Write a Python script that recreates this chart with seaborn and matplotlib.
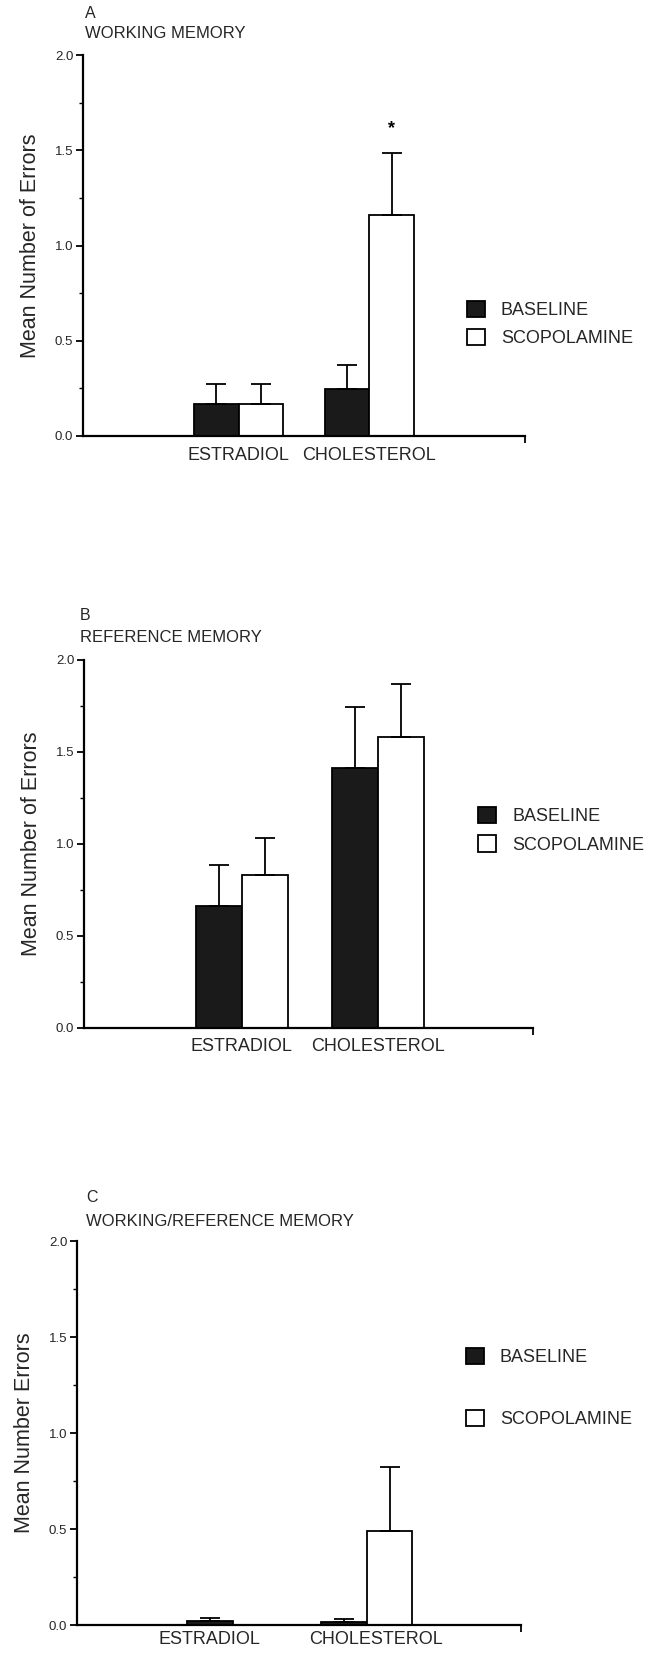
import numpy as np
import pandas as pd
import matplotlib
matplotlib.use("Agg")
import matplotlib.pyplot as plt
import seaborn as sns

# ---------------- data ----------------
treatments = ["ESTRADIOL", "CHOLESTEROL"]
conditions = ["BASELINE", "SCOPOLAMINE"]

# Panel A: working memory
wm_baseline = [0.167, 0.247]
wm_scopolamine = [0.167, 1.16]
wm_baseline_err = [0.105, 0.125]
wm_scopolamine_err = [0.105, 0.325]

# Panel B: reference memory
rm_baseline = [0.665, 1.415]
rm_scopolamine = [0.83, 1.58]
rm_baseline_err = [0.22, 0.33]
rm_scopolamine_err = [0.205, 0.29]

# Panel C: working/reference memory
wrm_baseline = [0.02, 0.015]
wrm_scopolamine = [0.0, 0.49]
wrm_baseline_err = [0.015, 0.015]
wrm_scopolamine_err = [0.0, 0.335]

panel_letters = ["A", "B", "C"]
panel_titles = ["WORKING MEMORY", "REFERENCE MEMORY", "WORKING/REFERENCE MEMORY"]
ylabels = ["Mean Number of Errors", "Mean Number of Errors", "Mean Number Errors"]
yticks = [0.0, 0.5, 1.0, 1.5, 2.0]
ytick_labels = ["0.0", "0.5", "1.0", "1.5", "2.0"]

panels = [
    (wm_baseline, wm_scopolamine, wm_baseline_err, wm_scopolamine_err),
    (rm_baseline, rm_scopolamine, rm_baseline_err, rm_scopolamine_err),
    (wrm_baseline, wrm_scopolamine, wrm_baseline_err, wrm_scopolamine_err),
]

# ---------------- style ----------------
sns.set_theme(style="ticks")
plt.rcParams["font.family"] = ["Liberation Sans", "DejaVu Sans"]

W, H = 654, 1653
fig = plt.figure(figsize=(W / 100, H / 100), dpi=100)

# axes boxes in pixels: left, right, top, bottom
boxes = [(83, 525, 55, 436), (84, 533, 660, 1028), (77, 521, 1241, 1625)]
xlims = [(-1.19, 2.19), (-1.16, 2.14), (-1.16, 2.15)]
legend_pos = [(0.868, 0.294), (0.878, 0.537), (0.875, 0.617)]
legend_spacing = [0.55, 0.55, 2.4]
label_shift = [(0.0, 0.0), (0.0, 0.0), (-0.17, 0.07)]
letter_y = [13, 616, 1197]
title_y = [33, 637, 1221]
title_x = [85, 80, 86]
xlabel_pad = [8, 7, 4]

for i, (b, s, be, se) in enumerate(panels):
    l, r, t, bt = boxes[i]
    ax = fig.add_axes([l / W, 1 - bt / H, (r - l) / W, (bt - t) / H])
    df = pd.DataFrame({
        "treatment": treatments * 2,
        "condition": [conditions[0]] * 2 + [conditions[1]] * 2,
        "value": list(b) + list(s),
        "err": list(be) + list(se),
    })
    sns.barplot(data=df, x="treatment", y="value", hue="condition",
                order=treatments, hue_order=conditions,
                palette=["#1a1a1a", "white"], edgecolor="black",
                linewidth=1.3, width=0.68, errorbar=None, ax=ax,
                saturation=1)
    # upper-only error bars from bar geometry
    for cont, errs in zip(ax.containers, [be, se]):
        for patch, e in zip(cont.patches, errs):
            if e <= 0:
                continue
            xc = patch.get_x() + patch.get_width() / 2
            top = patch.get_height()
            ax.errorbar(xc, top, yerr=[[0], [e]], fmt="none", ecolor="black",
                        elinewidth=1.3, capsize=7, capthick=1.3, zorder=3)
    if i == 0:
        cont = ax.containers[1]
        p = cont.patches[1]
        ax.text(p.get_x() + p.get_width() / 2, s[1] + se[1] + 0.13, "*",
                ha="center", va="center", fontsize=13, color="black",
                fontweight="bold")

    ax.set_xlim(*xlims[i])
    ax.set_ylim(0, 2.0)
    ax.set_xticks([k + label_shift[i][k] for k in range(len(treatments))])
    ax.set_xticklabels(treatments)
    ax.set_yticks(yticks)
    ax.set_yticklabels(ytick_labels, fontsize=9.5)
    ax.set_yticks(np.arange(0.25, 2.0, 0.5), minor=True)
    ax.set_xticks([xlims[i][1]], minor=True)
    ax.tick_params(axis="y", which="major", length=5, width=1.3, color="black", pad=2)
    ax.tick_params(axis="y", which="minor", length=3, width=1.0, color="black")
    ax.tick_params(axis="x", which="major", length=0, labelsize=13, pad=xlabel_pad[i])
    ax.tick_params(axis="x", which="minor", length=5, width=1.3, color="black")
    ax.set_xlabel("")
    ax.set_ylabel(ylabels[i], fontsize=15.5, labelpad=10)
    for sp in ["top", "right"]:
        ax.spines[sp].set_visible(False)
    for sp in ["left", "bottom"]:
        ax.spines[sp].set_linewidth(1.6)
        ax.spines[sp].set_color("black")
    ax.set_facecolor("white")

    leg = ax.legend(loc="center left", bbox_to_anchor=legend_pos[i], frameon=False,
                    fontsize=13, handlelength=1.0, handleheight=1.0,
                    handletextpad=0.9, labelspacing=legend_spacing[i],
                    borderpad=0, borderaxespad=0)
    for h in leg.legend_handles:
        h.set_edgecolor("black")
        h.set_linewidth(1.3)

    fig.text(title_x[i] / W, 1 - letter_y[i] / H, panel_letters[i], fontsize=11.5,
             ha="left", va="center")
    fig.text(title_x[i] / W, 1 - title_y[i] / H, panel_titles[i], fontsize=12,
             ha="left", va="center")

fig.savefig("out.png", dpi=100, facecolor="white")
